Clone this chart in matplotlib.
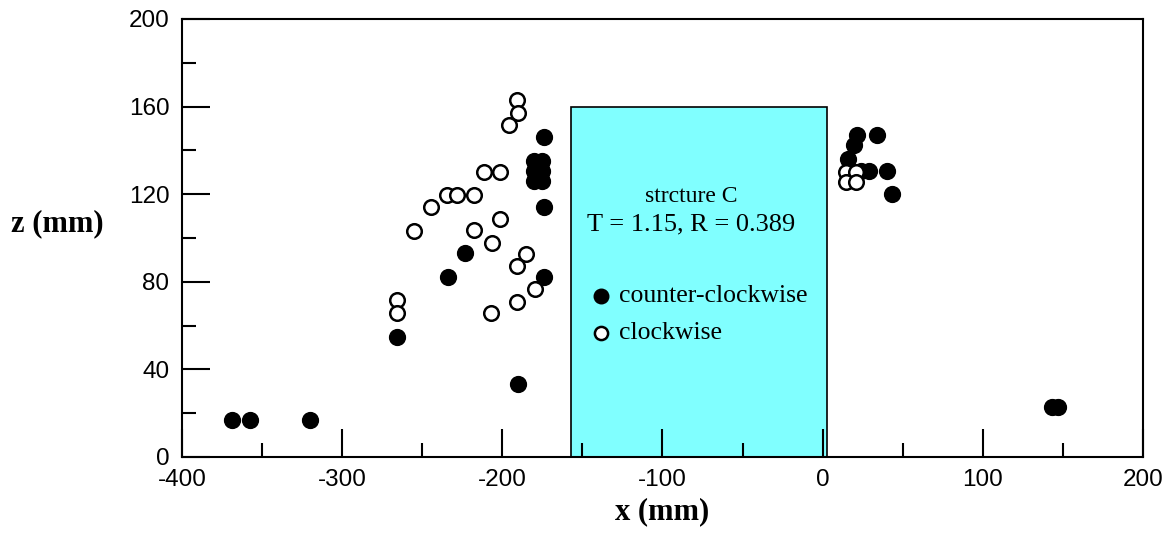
import matplotlib
matplotlib.use("Agg")
import matplotlib.pyplot as plt
import matplotlib.ticker as ticker
from matplotlib.patches import Rectangle

plt.rcParams["axes.unicode_minus"] = False

# counter-clockwise vortex positions (filled)
ccw_x = [-369, -357.5, -320, -266, -234, -223, -190, -174, -174, -174,
         -180, -175, -180, -175, -180, -175,
         21.7, 34, 19.6, 16, 24, 29, 40, 43.5, 143, 147]
ccw_z = [17, 17, 17, 55, 82, 93, 33.5, 146, 114, 82,
         135, 135, 130.5, 130.5, 126, 126,
         147, 147, 142.5, 136, 130.5, 130.5, 130.5, 120, 23, 23]

# clockwise vortex positions (open)
cw_x = [-190.8, -190.2, -196, -211.7, -201.2, -234.6, -228.3, -217.5,
        -244.4, -255.4, -201.7, -217.5, -206.4, -185, -190.8, -179.8,
        -265.8, -265.8, -190.8, -206.9, 14.4, 20.6, 14.4, 20.6]
cw_z = [163, 157, 151.5, 130, 130, 119.5, 119.5, 119.5,
        114, 103, 108.5, 103.5, 97.5, 92.5, 87, 76.5,
        71.5, 65.7, 71, 65.7, 130, 130, 125.7, 125.7]

# structure outline
struct_x0, struct_x1 = -157, 3
struct_h = 160
T_val, R_val = 1.15, 0.389

fig = plt.figure(figsize=(11.74, 5.35), dpi=100)
ax = fig.add_axes([0.155, 0.1458, 0.8186, 0.8187])

ax.add_patch(Rectangle((struct_x0, 0), struct_x1 - struct_x0, struct_h,
                       facecolor="#80FFFF", edgecolor="black", linewidth=1.2, zorder=1))

ax.scatter(ccw_x, ccw_z, s=130, c="black", edgecolors="black", linewidths=1, zorder=3)
ax.scatter(cw_x, cw_z, s=110, c="white", edgecolors="black", linewidths=1.8, zorder=4)

serif = ["Liberation Serif", "DejaVu Serif"]
ax.text(-82, 119, "strcture C", ha="center", va="center", fontsize=17, family=serif)
ax.text(-82, 106, f"T = {T_val}, R = {R_val}", ha="center", va="center",
        fontsize=19, family=serif)

# in-box legend
ax.scatter([-138.5], [73.5], s=110, c="black", zorder=5)
ax.scatter([-138.5], [56.5], s=90, c="white", edgecolors="black", linewidths=1.8, zorder=5)
ax.text(-127, 73.5, "counter-clockwise", ha="left", va="center", fontsize=18.5, family=serif)
ax.text(-127, 56.5, "clockwise", ha="left", va="center", fontsize=18.5, family=serif)

ax.set_xlim(-400, 200)
ax.set_ylim(0, 200)
ax.xaxis.set_major_locator(ticker.MultipleLocator(100))
ax.xaxis.set_minor_locator(ticker.MultipleLocator(50))
ax.yaxis.set_major_locator(ticker.MultipleLocator(40))
ax.yaxis.set_minor_locator(ticker.MultipleLocator(20))
ax.tick_params(which="major", direction="in", length=20, width=1.5,
               top=False, right=False, labelsize=17.5, pad=9)
ax.tick_params(which="minor", direction="in", length=10, width=1.5,
               top=False, right=False)
sans = ["Liberation Sans Narrow", "Liberation Sans", "DejaVu Sans"]
for lbl in ax.get_xticklabels() + ax.get_yticklabels():
    lbl.set_family(sans)
for sp in ax.spines.values():
    sp.set_linewidth(1.5)

ax.set_xlabel("x (mm)", fontsize=22, fontweight="bold", family=serif, labelpad=4)
ax.set_ylabel("z (mm)", fontsize=22, fontweight="bold", family=serif,
              rotation=0, labelpad=0)
ax.yaxis.set_label_coords(-0.13, 0.5)

fig.savefig("out.png", dpi=100)
